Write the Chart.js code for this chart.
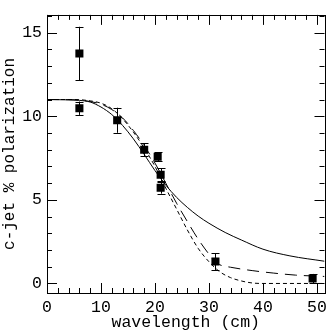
<!DOCTYPE html>
<html>
<head>
<meta charset="utf-8">
<script src="https://cdn.jsdelivr.net/npm/chart.js@4"></script>
<style>
  html, body { margin: 0; padding: 0; background: #fff; }
  #wrap { width: 332px; height: 333px; }
</style>
</head>
<body>
<div id="wrap"><canvas id="chart" width="332" height="333"></canvas></div>
<script>
// measured points
const obsX = [6, 6, 13, 18, 20.5, 21.05, 21.05, 31.2, 49.2];
const obsY = [13.75, 10.48, 9.76, 8.0, 7.58, 6.5, 5.72, 1.31, 0.3];
const obsErr = [1.6, 0.4, 0.75, 0.38, 0.28, 0.4, 0.35, 0.5, 0.27];

// model curves
const solidX = [0, 4, 6, 8, 10, 12, 14, 16, 18, 20, 22, 24, 26, 28, 30, 33, 36, 40, 45, 51.4];
const solidY = [11, 10.98, 10.95, 10.85, 10.55, 10.1, 9.45, 8.65, 7.72, 6.75, 5.88, 5.15, 4.55, 4.03, 3.6, 3.05, 2.6, 2.05, 1.65, 1.33];

const dashX = [0, 5, 8, 10, 12, 14, 16, 18, 20, 22, 24, 26, 28, 30, 31, 32, 34, 38, 42, 46, 51.4];
const dashY = [11, 10.98, 10.88, 10.72, 10.4, 9.9, 9.15, 8.25, 7.2, 6.0, 4.8, 3.7, 2.65, 1.75, 1.35, 1.12, 0.97, 0.77, 0.62, 0.5, 0.42];

const dotX = [0, 5, 8, 10, 12, 14, 16, 18, 20, 22, 24, 26, 28, 30, 32, 34, 36, 38, 40, 51.4];
const dotY = [11, 11, 10.92, 10.78, 10.45, 9.85, 9.05, 8.1, 7.0, 5.7, 4.45, 3.2, 2.1, 1.3, 0.7, 0.35, 0.15, 0.03, 0, 0];

const xTicks = [0, 10, 20, 30, 40, 50];
const yTicks = [0, 5, 10, 15];

const toPts = (xs, ys) => xs.map((x, i) => ({ x: x, y: ys[i] }));

// error bars, inward ticks and frame
const extras = {
  id: "extras",
  afterDatasetsDraw(chart) {
    const ctx = chart.ctx;
    const xs = chart.scales.x;
    const ys = chart.scales.y;
    const a = chart.chartArea;
    ctx.save();
    ctx.strokeStyle = "#000";
    ctx.lineWidth = 1;

    ctx.beginPath();
    obsX.forEach((x, i) => {
      const px = Math.round(xs.getPixelForValue(x)) + 0.5;
      const top = ys.getPixelForValue(obsY[i] + obsErr[i]);
      const bot = ys.getPixelForValue(obsY[i] - obsErr[i]);
      ctx.moveTo(px, top); ctx.lineTo(px, bot);
      ctx.moveTo(px - 4, Math.round(top) + 0.5); ctx.lineTo(px + 4, Math.round(top) + 0.5);
      ctx.moveTo(px - 4, Math.round(bot) + 0.5); ctx.lineTo(px + 4, Math.round(bot) + 0.5);
    });
    ctx.stroke();

    ctx.beginPath();
    for (let v = 0; v <= 51; v += 2) {
      const px = Math.round(xs.getPixelForValue(v)) + 0.5;
      const len = v % 10 === 0 ? 10 : 5;
      ctx.moveTo(px, a.bottom); ctx.lineTo(px, a.bottom - len);
      ctx.moveTo(px, a.top); ctx.lineTo(px, a.top + len);
    }
    for (let v = 0; v <= 16; v += 1) {
      const py = Math.round(ys.getPixelForValue(v)) + 0.5;
      const len = v % 5 === 0 ? 10 : 5;
      ctx.moveTo(a.left, py); ctx.lineTo(a.left + len, py);
      ctx.moveTo(a.right, py); ctx.lineTo(a.right - len, py);
    }
    ctx.stroke();

    ctx.strokeRect(Math.round(a.left) + 0.5, Math.round(a.top) + 0.5,
      Math.round(a.right - a.left), Math.round(a.bottom - a.top));
    ctx.restore();
  }
};

const font = { family: "Liberation Mono", size: 16.5 };

new Chart(document.getElementById("chart").getContext("2d"), {
  type: "line",
  data: {
    datasets: [
      {
        data: toPts(solidX, solidY),
        borderColor: "#000",
        borderWidth: 1,
        pointRadius: 0,
        cubicInterpolationMode: "monotone"
      },
      {
        data: toPts(dashX, dashY),
        borderColor: "#000",
        borderWidth: 1,
        borderDash: [12, 7],
        pointRadius: 0,
        cubicInterpolationMode: "monotone"
      },
      {
        data: toPts(dotX, dotY),
        borderColor: "#000",
        borderWidth: 1,
        borderDash: [4, 3],
        pointRadius: 0,
        cubicInterpolationMode: "monotone"
      },
      {
        data: toPts(obsX, obsY),
        showLine: false,
        pointStyle: "rect",
        pointRadius: 5.7,
        pointBorderWidth: 0,
        pointBackgroundColor: "#000",
        pointBorderColor: "#000"
      }
    ]
  },
  options: {
    responsive: false,
    animation: false,
    layout: { padding: { top: 1, right: 2, left: 0, bottom: 0 } },
    plugins: {
      legend: { display: false },
      tooltip: { enabled: false }
    },
    scales: {
      x: {
        type: "linear",
        min: 0,
        max: 51.4,
        afterBuildTicks: s => { s.ticks = xTicks.map(v => ({ value: v })); },
        afterFit: s => { s.height = 40; },
        grid: { display: false, drawTicks: false },
        border: { display: false },
        ticks: { color: "#000", font: font, padding: 5, maxRotation: 0 },
        title: { display: true, text: "wavelength (cm)", color: "#000", font: font, padding: { top: 0, bottom: 0 } }
      },
      y: {
        type: "linear",
        min: -0.57,
        max: 16.06,
        afterBuildTicks: s => { s.ticks = yTicks.map(v => ({ value: v })); },
        afterFit: s => { s.width = 47; },
        grid: { display: false, drawTicks: false },
        border: { display: false },
        ticks: { color: "#000", font: font, padding: 5 },
        title: { display: true, text: "c-jet % polarization", color: "#000", font: { family: "Liberation Mono", size: 16 }, padding: { top: 0, bottom: 2 } }
      }
    }
  },
  plugins: [extras]
});
</script>
</body>
</html>
